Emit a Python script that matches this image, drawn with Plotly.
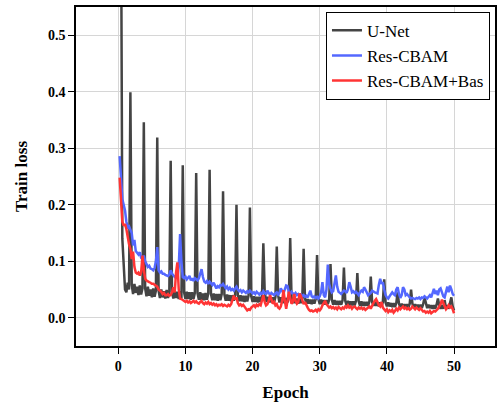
import plotly.graph_objects as go

# epochs sampled every 0.2 epoch (5 points per epoch), 0.2 .. 50.0
epoch = [round(0.2 * i, 1) for i in range(1, 251)]

unet = [
    0.75, 0.75, 0.14, 0.08, 0.05,
    0.045, 0.062, 0.05, 0.399, 0.058,
    0.042, 0.06, 0.044, 0.055, 0.04,
    0.057, 0.041, 0.052, 0.346, 0.052,
    0.038, 0.055, 0.039, 0.05, 0.036,
    0.052, 0.037, 0.048, 0.319, 0.048,
    0.035, 0.05, 0.036, 0.047, 0.034,
    0.049, 0.035, 0.046, 0.278, 0.045,
    0.034, 0.048, 0.035, 0.046, 0.033,
    0.047, 0.034, 0.27, 0.045, 0.033,
    0.046, 0.033, 0.045, 0.032, 0.045,
    0.033, 0.044, 0.256, 0.043, 0.032,
    0.045, 0.032, 0.043, 0.031, 0.044,
    0.032, 0.043, 0.262, 0.042, 0.031,
    0.043, 0.031, 0.042, 0.03, 0.042,
    0.031, 0.042, 0.224, 0.041, 0.03,
    0.041, 0.03, 0.04, 0.029, 0.04,
    0.03, 0.04, 0.2, 0.04, 0.029,
    0.04, 0.029, 0.039, 0.028, 0.039,
    0.029, 0.039, 0.195, 0.038, 0.028,
    0.038, 0.028, 0.037, 0.027, 0.037,
    0.028, 0.038, 0.132, 0.048, 0.028,
    0.037, 0.027, 0.036, 0.027, 0.036,
    0.027, 0.037, 0.126, 0.04, 0.027,
    0.036, 0.026, 0.035, 0.026, 0.035,
    0.027, 0.036, 0.141, 0.036, 0.026,
    0.035, 0.026, 0.034, 0.025, 0.034,
    0.026, 0.034, 0.122, 0.035, 0.025,
    0.033, 0.025, 0.032, 0.024, 0.032,
    0.025, 0.033, 0.111, 0.033, 0.024,
    0.032, 0.024, 0.031, 0.023, 0.031,
    0.024, 0.032, 0.095, 0.032, 0.023,
    0.031, 0.023, 0.03, 0.023, 0.03,
    0.023, 0.031, 0.089, 0.03, 0.022,
    0.03, 0.022, 0.029, 0.022, 0.029,
    0.022, 0.03, 0.079, 0.029, 0.021,
    0.029, 0.021, 0.028, 0.021, 0.028,
    0.021, 0.029, 0.073, 0.028, 0.021,
    0.028, 0.021, 0.027, 0.02, 0.027,
    0.02, 0.028, 0.068, 0.027, 0.02,
    0.027, 0.02, 0.026, 0.019, 0.026,
    0.019, 0.026, 0.045, 0.025, 0.019,
    0.025, 0.019, 0.024, 0.018, 0.024,
    0.018, 0.025, 0.05, 0.025, 0.018,
    0.024, 0.018, 0.023, 0.017, 0.023,
    0.017, 0.024, 0.036, 0.023, 0.017,
    0.023, 0.017, 0.022, 0.016, 0.022,
    0.016, 0.023, 0.034, 0.022, 0.016,
    0.022, 0.016, 0.031, 0.017, 0.022,
    0.016, 0.026, 0.036, 0.02, 0.013,
]

res_cbam = [
    0.286, 0.25, 0.21, 0.2, 0.19,
    0.17, 0.16, 0.162, 0.155, 0.15,
    0.128, 0.138, 0.118, 0.114, 0.112,
    0.116, 0.106, 0.104, 0.11, 0.1,
    0.095, 0.09, 0.092, 0.087, 0.086,
    0.084, 0.088, 0.1, 0.125, 0.084,
    0.08, 0.082, 0.078, 0.078, 0.076,
    0.075, 0.074, 0.076, 0.084, 0.078,
    0.074, 0.072, 0.073, 0.07, 0.09,
    0.148, 0.1, 0.072, 0.07, 0.073,
    0.068, 0.072, 0.074, 0.066, 0.07,
    0.065, 0.07, 0.068, 0.066, 0.07,
    0.078, 0.086, 0.072, 0.064, 0.062,
    0.065, 0.06, 0.064, 0.061, 0.058,
    0.062, 0.055, 0.052, 0.056, 0.054,
    0.058, 0.057, 0.06, 0.055, 0.052,
    0.055, 0.05, 0.053, 0.049, 0.051,
    0.048, 0.052, 0.055, 0.05, 0.047,
    0.049, 0.045, 0.048, 0.046, 0.044,
    0.047, 0.045, 0.048, 0.046, 0.043,
    0.045, 0.042, 0.046, 0.043, 0.041,
    0.044, 0.042, 0.047, 0.043, 0.041,
    0.048, 0.043, 0.04, 0.044, 0.042,
    0.04, 0.043, 0.045, 0.041, 0.044,
    0.052, 0.046, 0.043, 0.05, 0.057,
    0.056, 0.045, 0.042, 0.046, 0.043,
    0.041, 0.044, 0.04, 0.042, 0.039,
    0.041, 0.038, 0.04, 0.037, 0.039,
    0.036, 0.042, 0.048, 0.038, 0.036,
    0.038, 0.035, 0.037, 0.034, 0.038,
    0.045, 0.063, 0.04, 0.036, 0.05,
    0.094, 0.06, 0.051, 0.045, 0.047,
    0.06, 0.075, 0.055, 0.046, 0.044,
    0.042, 0.045, 0.048, 0.047, 0.044,
    0.05, 0.063, 0.055, 0.045, 0.047,
    0.044, 0.046, 0.042, 0.04, 0.045,
    0.048, 0.046, 0.054, 0.05, 0.043,
    0.04, 0.042, 0.044, 0.048, 0.046,
    0.045, 0.044, 0.043, 0.058, 0.069,
    0.06, 0.063, 0.05, 0.04, 0.036,
    0.034, 0.038, 0.042, 0.045, 0.042,
    0.04, 0.05, 0.054, 0.042, 0.035,
    0.04, 0.054, 0.05, 0.04, 0.042,
    0.038, 0.036, 0.034, 0.035, 0.034,
    0.033, 0.035, 0.034, 0.036, 0.033,
    0.036, 0.035, 0.038, 0.036, 0.034,
    0.037, 0.04, 0.036, 0.045, 0.051,
    0.042, 0.048, 0.04, 0.05, 0.052,
    0.045, 0.038, 0.036, 0.045, 0.055,
    0.045, 0.057, 0.05, 0.042, 0.039,
]

res_cbam_bas = [
    0.248, 0.2, 0.17, 0.163, 0.166,
    0.157, 0.14, 0.13, 0.122, 0.104,
    0.117, 0.09, 0.08, 0.078, 0.08,
    0.075, 0.08, 0.11, 0.085, 0.069,
    0.066, 0.064, 0.063, 0.062, 0.06,
    0.06, 0.058, 0.057, 0.055, 0.05,
    0.048, 0.046, 0.042, 0.044, 0.04,
    0.04, 0.042, 0.039, 0.04, 0.045,
    0.054, 0.045, 0.08, 0.098, 0.05,
    0.034, 0.033, 0.031, 0.03, 0.028,
    0.03, 0.027, 0.029, 0.026, 0.028,
    0.03, 0.027, 0.029, 0.026, 0.025,
    0.028, 0.03, 0.026, 0.024, 0.027,
    0.025, 0.028, 0.024, 0.026, 0.023,
    0.025, 0.022, 0.024, 0.021, 0.023,
    0.022, 0.024, 0.021, 0.023, 0.022,
    0.02, 0.023, 0.021, 0.024, 0.03,
    0.039, 0.032, 0.036, 0.026, 0.022,
    0.024, 0.021, 0.023, 0.02, 0.016,
    0.013, 0.015, 0.014, 0.018, 0.02,
    0.022, 0.019, 0.023, 0.021, 0.024,
    0.022, 0.03, 0.04, 0.028, 0.022,
    0.024, 0.03, 0.04, 0.034, 0.025,
    0.028, 0.022, 0.024, 0.018, 0.016,
    0.02, 0.03, 0.049, 0.03, 0.016,
    0.03, 0.046, 0.035, 0.025, 0.028,
    0.042, 0.03, 0.025, 0.028, 0.043,
    0.038, 0.03, 0.024, 0.028, 0.022,
    0.018, 0.014, 0.012, 0.013, 0.011,
    0.012, 0.014, 0.011, 0.015, 0.013,
    0.016, 0.022, 0.026, 0.03, 0.024,
    0.02, 0.018, 0.02, 0.017, 0.019,
    0.016, 0.018, 0.015, 0.019, 0.017,
    0.015, 0.018, 0.016, 0.02, 0.018,
    0.022, 0.018, 0.02, 0.016, 0.019,
    0.02, 0.017, 0.015, 0.018, 0.016,
    0.018, 0.015, 0.017, 0.014, 0.016,
    0.018, 0.02, 0.016, 0.022, 0.026,
    0.03, 0.033, 0.028, 0.022, 0.02,
    0.028, 0.018, 0.014, 0.012, 0.015,
    0.01, 0.013, 0.011, 0.014, 0.009,
    0.012, 0.016, 0.013, 0.018, 0.015,
    0.017, 0.02, 0.016, 0.018, 0.015,
    0.017, 0.014, 0.016, 0.02, 0.017,
    0.015, 0.018, 0.016, 0.014, 0.017,
    0.013, 0.011, 0.012, 0.009, 0.011,
    0.009, 0.012, 0.008, 0.01, 0.012,
    0.011, 0.013, 0.016, 0.02, 0.024,
    0.032, 0.025, 0.019, 0.015, 0.018,
    0.022, 0.018, 0.02, 0.015, 0.008,
]

names = ["U-Net", "Res-CBAM", "Res-CBAM+Bas"]
colors = ["#444444", "#5468ff", "#ff3434"]
series = [unet, res_cbam, res_cbam_bas]

x_ticks = [0, 10, 20, 30, 40, 50]
y_ticks = [0.0, 0.1, 0.2, 0.3, 0.4, 0.5]

fig = go.Figure()
for name, col, vals in zip(names, colors, series):
    fig.add_trace(go.Scatter(x=epoch, y=vals, mode="lines", name=name,
                             line=dict(color=col, width=2.5)))

serif = "Liberation Serif, Times New Roman, serif"
axis_common = dict(
    showgrid=True, gridcolor="#d6d6d6", gridwidth=1.3,
    showline=True, linecolor="black", linewidth=1.5, mirror=True,
    ticks="outside", ticklen=6, tickcolor="black", tickwidth=1.3,
    zeroline=False,
    tickfont=dict(family=serif, size=14, color="black", weight="bold"),
)

fig.update_layout(
    width=499, height=404,
    margin=dict(l=76, r=2, t=7, b=58),
    paper_bgcolor="white", plot_bgcolor="white",
    xaxis=dict(range=[-6.3, 56.1], tickvals=x_ticks,
               title=dict(text="Epoch", standoff=14,
                          font=dict(family=serif, size=17, color="black", weight="bold")),
               **axis_common),
    yaxis=dict(range=[-0.05, 0.55], tickvals=y_ticks, tickformat=".1f",
               title=dict(text="Train loss", standoff=16,
                          font=dict(family=serif, size=17, color="black", weight="bold")),
               **axis_common),
    legend=dict(x=0.988, y=0.986, xanchor="right", yanchor="top",
                bgcolor="white", bordercolor="black", borderwidth=1,
                font=dict(family=serif, size=17, color="black"),
                tracegroupgap=0),
    showlegend=True,
)

fig.write_html("out.html", config={"displayModeBar": False},
               post_script="document.body.style.margin='0px';document.body.style.overflow='hidden';")
